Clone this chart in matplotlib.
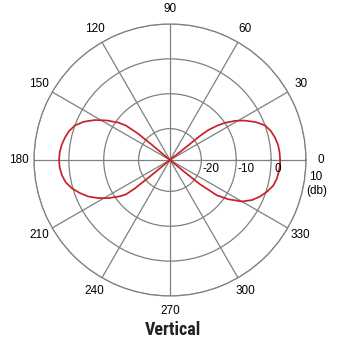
import numpy as np
import matplotlib
matplotlib.use('Agg')
import matplotlib.pyplot as plt
from matplotlib import font_manager

# pattern: angle (deg) -> gain (dB), path goes round the figure-8
angle_deg = [0, 4, 8, 12, 16, 20, 24, 28, 31, 34, 36, 38, 38.7, 38.7, 39,
             140, 140, 140.5, 142, 144, 148, 152, 156, 160, 164, 168, 172, 176, 180,
             184, 188, 192, 196, 200, 204, 208, 212, 216, 218, 219, 219.5, 220,
             320, 320.5, 321, 323, 326, 330, 334, 338, 342, 346, 350, 354, 358, 360]
gain_db = [2.6, 2.5, 2.3, 1.8, 1.1, 0.0, -2.2, -4.9, -7.2, -9.9, -12.2, -15.0, -17.5, -23, -29,
           -29, -22, -17, -13, -10.8, -7.6, -4.6, -2.0, 0.0, 1.1, 1.8, 2.35, 2.7, 2.8,
           2.7, 2.3, 1.6, 0.3, -1.4, -3.3, -5.7, -8.4, -11.3, -13.0, -16, -22, -29,
           -29, -23, -18, -12.2, -8.9, -5.2, -2.8, -1.1, 0.3, 1.5, 2.1, 2.4, 2.6, 2.6]

spoke_angles = list(range(0, 360, 30))
ring_values = [-20, -10, 0, 10]
r_min, r_max = -29, 10

grid_col = '#808080'
line_col = '#c82226'

plt.rcParams['font.family'] = ['Liberation Sans', 'DejaVu Sans']
names = {f.name for f in font_manager.fontManager.ttflist}
title_font = 'Liberation Sans'
for cand in ['Liberation Sans Narrow', 'Roboto Condensed', 'Open Sans Condensed']:
    if cand in names:
        title_font = cand
        break

fig = plt.figure(figsize=(3.5, 3.59), dpi=100)
ax = fig.add_axes([0.0971, 0.1755, 0.7771, 0.7577], projection='polar')

ax.plot(np.deg2rad(angle_deg), gain_db, color=line_col, lw=1.25, zorder=3)

ax.set_rlim(r_min, r_max)
ax.set_rgrids(ring_values, labels=[])
ax.set_thetagrids(spoke_angles, labels=[])
ax.grid(True, color=grid_col, lw=0.9)
ax.spines['polar'].set_color(grid_col)
ax.spines['polar'].set_linewidth(0.9)
ax.tick_params(length=0)

# angle labels round the outside
for a in spoke_angles:
    ax.text(np.deg2rad(a), 14.3, str(a), ha='center', va='center', fontsize=8.5, clip_on=False)

# ring labels just right of each ring, below the 0 deg spoke
for v, dx in zip([-20, -10, 0], [1, 1.5, 3.5]):
    ax.annotate(str(v), xy=(0, v), xytext=(dx, -9), textcoords='offset pixels',
                ha='left', va='center', fontsize=8.5)
ax.annotate('10', xy=(0, 10), xytext=(10, -17), textcoords='offset pixels',
            ha='center', va='center', fontsize=8.5, annotation_clip=False)
ax.annotate('(db)', xy=(0, 10), xytext=(11, -31), textcoords='offset pixels',
            ha='center', va='center', fontsize=8.5, annotation_clip=False)

fig.text(173 / 350, 1 - 330 / 359, 'Vertical', ha='center', va='center',
         fontsize=12 if title_font == 'Liberation Sans' else 13,
         fontweight='bold', family=title_font, color='#222222')

fig.savefig('out.png', dpi=100)
